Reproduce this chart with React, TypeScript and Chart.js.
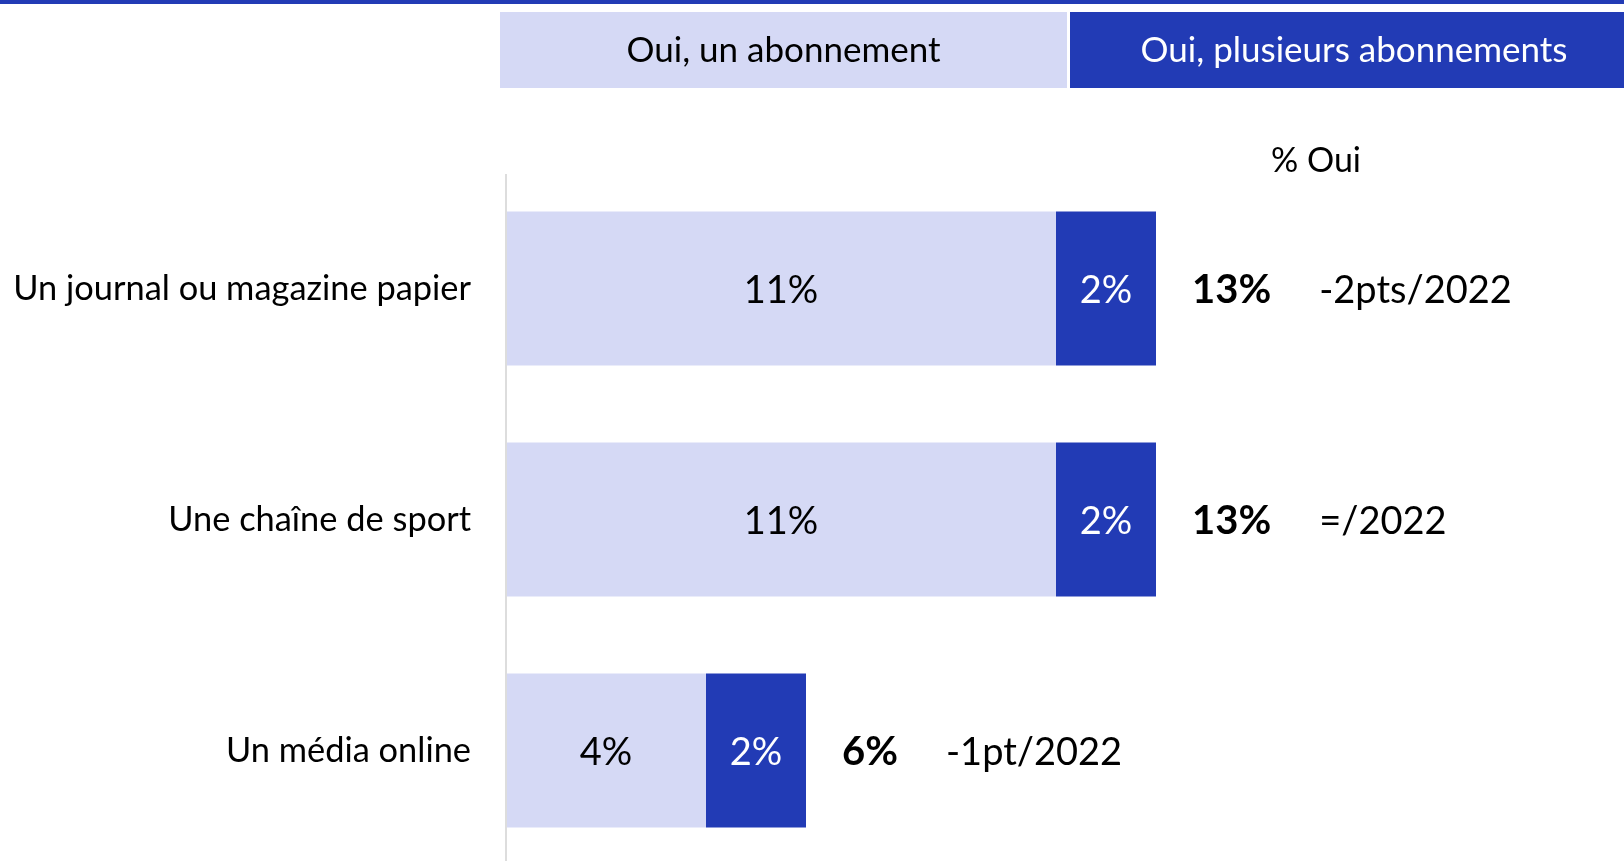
import React, { useEffect, useRef } from "react";
import { Chart, registerables } from "chart.js";

Chart.register(...registerables);

const categories = ["Un journal ou magazine papier", "Une chaîne de sport", "Un média online"];
const seriesNames = ["Oui, un abonnement", "Oui, plusieurs abonnements"];
const oneSub = [11, 11, 4];
const severalSubs = [2, 2, 2];
const totals = ["13%", "13%", "6%"];
const changes = ["-2pts/2022", "=/2022", "-1pt/2022"];
const totalHeader = "% Oui";

const LIGHT = "#D5D9F5";
const DARK = "#223BB5";
const FONT = "Lato, 'Noto Sans', sans-serif";

const overlay = {
  id: "overlay",
  afterDatasetsDraw(chart: any) {
    const ctx = chart.ctx as CanvasRenderingContext2D;
    const area = chart.chartArea;
    const W = chart.width;
    ctx.save();
    // top band
    ctx.fillStyle = DARK;
    ctx.fillRect(0, 0, W, 4);
    // header boxes
    ctx.fillStyle = LIGHT;
    ctx.fillRect(500, 12, 567, 76);
    ctx.fillStyle = DARK;
    ctx.fillRect(1070, 12, W - 1070, 76);
    ctx.textAlign = "center";
    ctx.textBaseline = "middle";
    ctx.font = `35px ${FONT}`;
    ctx.fillStyle = "#000";
    ctx.fillText(seriesNames[0], 783.5, 51);
    ctx.fillStyle = "#fff";
    ctx.fillText(seriesNames[1], 1354, 51);
    // % Oui header
    ctx.fillStyle = "#000";
    ctx.font = `34px ${FONT}`;
    ctx.fillText(totalHeader, 1316, 161);
    // axis line
    ctx.strokeStyle = "#DDDDDD";
    ctx.lineWidth = 2;
    ctx.beginPath();
    ctx.moveTo(area.left, 174);
    ctx.lineTo(area.left, chart.height);
    ctx.stroke();

    const m0 = chart.getDatasetMeta(0);
    const m1 = chart.getDatasetMeta(1);
    categories.forEach((cat, i) => {
      const b0 = m0.data[i] as any;
      const b1 = m1.data[i] as any;
      const y = b0.y;
      // category label
      ctx.textAlign = "right";
      ctx.fillStyle = "#000";
      ctx.font = `34.4px ${FONT}`;
      ctx.fillText(cat, 471, y);
      // inside values
      ctx.textAlign = "center";
      ctx.font = `38px ${FONT}`;
      ctx.fillStyle = "#000";
      ctx.fillText(`${oneSub[i]}%`, (b0.x + b0.base) / 2, y + 2);
      ctx.fillStyle = "#fff";
      ctx.fillText(`${severalSubs[i]}%`, (b1.x + b1.base) / 2, y + 2);
      // total
      ctx.textAlign = "left";
      ctx.fillStyle = "#000";
      ctx.font = `bold 40px ${FONT}`;
      const tx = b1.x + 36;
      ctx.fillText(totals[i], tx, y + 2);
      const tw = ctx.measureText(totals[i]).width;
      ctx.font = `38px ${FONT}`;
      ctx.fillText(changes[i], tx + tw + 48, y + 2);
    });
    ctx.restore();
  },
};

export default function App() {
  const ref = useRef<HTMLCanvasElement>(null);
  useEffect(() => {
    if (!ref.current) return;
    const chart = new Chart(ref.current, {
      type: "bar",
      data: {
        labels: categories,
        datasets: [
          { label: seriesNames[0], data: oneSub, backgroundColor: LIGHT, borderWidth: 0 },
          { label: seriesNames[1], data: severalSubs, backgroundColor: DARK, borderWidth: 0 },
        ],
      },
      options: {
        indexAxis: "y",
        animation: false,
        responsive: false,
        devicePixelRatio: 1,
        layout: { padding: { left: 506, right: 18, top: 173, bottom: 4 } },
        datasets: { bar: { barPercentage: 1, categoryPercentage: 154 / 231 } },
        scales: {
          x: { stacked: true, min: 0, max: 22, display: false },
          y: { stacked: true, display: false },
        },
        plugins: { legend: { display: false }, tooltip: { enabled: false } },
      },
      plugins: [overlay],
    });
    return () => chart.destroy();
  }, []);
  return (
    <div style={{ position: "fixed", left: 0, top: 0, width: 1624, height: 861, overflow: "hidden", background: "#fff" }}>
      <canvas ref={ref} width={1624} height={870} style={{ display: "block", width: 1624, height: 870 }} />
    </div>
  );
}
